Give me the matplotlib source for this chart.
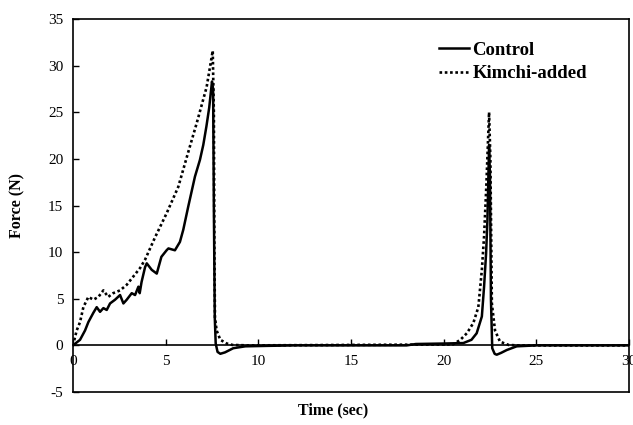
import matplotlib
matplotlib.use("Agg")
import matplotlib.pyplot as plt

plt.rcParams['font.family'] = ['Liberation Serif', 'DejaVu Serif']
plt.rcParams['axes.unicode_minus'] = False

# Control (t en seg, fuerza en N)
t_control = [0, 0.38, 0.65, 0.83, 1.1, 1.28, 1.46, 1.64, 1.82, 2.0, 2.27, 2.54, 2.72, 2.9,
             3.17, 3.35, 3.53, 3.6, 3.7, 3.89, 3.98, 4.25, 4.52, 4.77, 5.05, 5.15, 5.5, 5.77,
             5.95, 6.22, 6.58, 6.85, 7.03, 7.2, 7.35, 7.5, 7.56, 7.6, 7.65, 7.7, 7.8, 7.95,
             8.2, 8.65, 9.3, 10.5, 12, 18, 18.5, 20, 21.06, 21.5, 21.78, 22.06, 22.18, 22.29,
             22.36, 22.45, 22.5, 22.55, 22.62, 22.75, 22.86, 23.1, 23.4, 23.94, 25, 30]
f_control = [0, 0.6, 1.6, 2.5, 3.5, 4.1, 3.6, 4.0, 3.8, 4.5, 4.9, 5.4, 4.5, 4.9,
             5.6, 5.4, 6.3, 5.6, 6.8, 8.4, 8.8, 8.1, 7.7, 9.5, 10.2, 10.4, 10.2, 11.1,
             12.4, 14.9, 18.1, 19.9, 21.5, 23.5, 25.5, 28.3, 27.5, 15, 3, 0.2, -0.7, -0.9,
             -0.75, -0.3, -0.1, -0.05, 0, 0, 0.15, 0.2, 0.25, 0.6, 1.3, 3.1, 6.3, 9.9,
             13.4, 21.5, 18, 5, -0.3, -0.9, -1.0, -0.8, -0.5, -0.1, 0, 0]

# Kimchi-added
t_kimchi = [0, 0.2, 0.38, 0.56, 0.83, 1.1, 1.37, 1.64, 1.9, 2.17, 2.54, 2.9, 3.26, 3.62,
            3.89, 4.16, 4.43, 5.06, 5.68, 6.2, 6.67, 7.21, 7.54, 7.6, 7.63, 7.66, 7.75, 7.95,
            8.3, 8.6, 9.5, 20.5, 20.9, 21.25, 21.6, 21.87, 22.06, 22.18, 22.3, 22.45, 22.52,
            22.6, 22.77, 23.04, 23.5, 24, 30]
f_kimchi = [0, 1.6, 2.5, 4.1, 5.2, 4.9, 5.2, 5.9, 5.2, 5.6, 5.9, 6.5, 7.4, 8.3,
            9.2, 10.4, 11.6, 14.2, 17.0, 20.6, 23.8, 27.7, 31.6, 25, 10, 3, 1.6, 0.6,
            0.2, 0.05, 0, 0.1, 0.6, 1.3, 2.4, 4.1, 8.1, 11.7, 17, 25.0, 20,
            4.5, 1.6, 0.4, 0.05, 0, 0]

x_ticks = [0, 5, 10, 15, 20, 25, 30]
y_ticks = [-5, 0, 5, 10, 15, 20, 25, 30, 35]

fig = plt.figure(figsize=(6.33, 4.25), dpi=100)
ax = fig.add_axes([0.1153, 0.0776, 0.8784, 0.8776])

ax.plot(t_control, f_control, color='black', lw=1.8, label='Control')
ax.plot(t_kimchi, f_kimchi, color='black', lw=1.9, linestyle=(0, (1, 1)), label='Kimchi-added')

ax.set_xlim(0, 30)
ax.set_ylim(-5, 35)
ax.set_xticks(x_ticks)
ax.set_yticks(y_ticks)

# eje x sobre y=0, estilo Excel
ax.spines['bottom'].set_position(('data', 0))
ax.axhline(-5, color='black', lw=1.2, clip_on=False)
for s in ['left', 'right', 'top', 'bottom']:
    ax.spines[s].set_linewidth(1.2)

ax.tick_params(axis='x', direction='in', length=4, width=1, pad=7, labelsize=11)
ax.tick_params(axis='y', direction='in', length=4, width=1, pad=7, labelsize=11)

fig.text(0.527, 0.035, 'Time (sec)', ha='center', va='center', fontsize=11.5, fontweight='bold')
fig.text(0.028, 0.517, 'Force (N)', ha='center', va='center', fontsize=11.5,
         fontweight='bold', rotation=90)

ax.legend(loc='upper right', bbox_to_anchor=(0.955, 0.985), frameon=False,
          prop={'weight': 'bold', 'size': 13.5}, handlelength=1.6, handletextpad=0.2,
          labelspacing=0.35)

fig.savefig('out.png', dpi=100)
